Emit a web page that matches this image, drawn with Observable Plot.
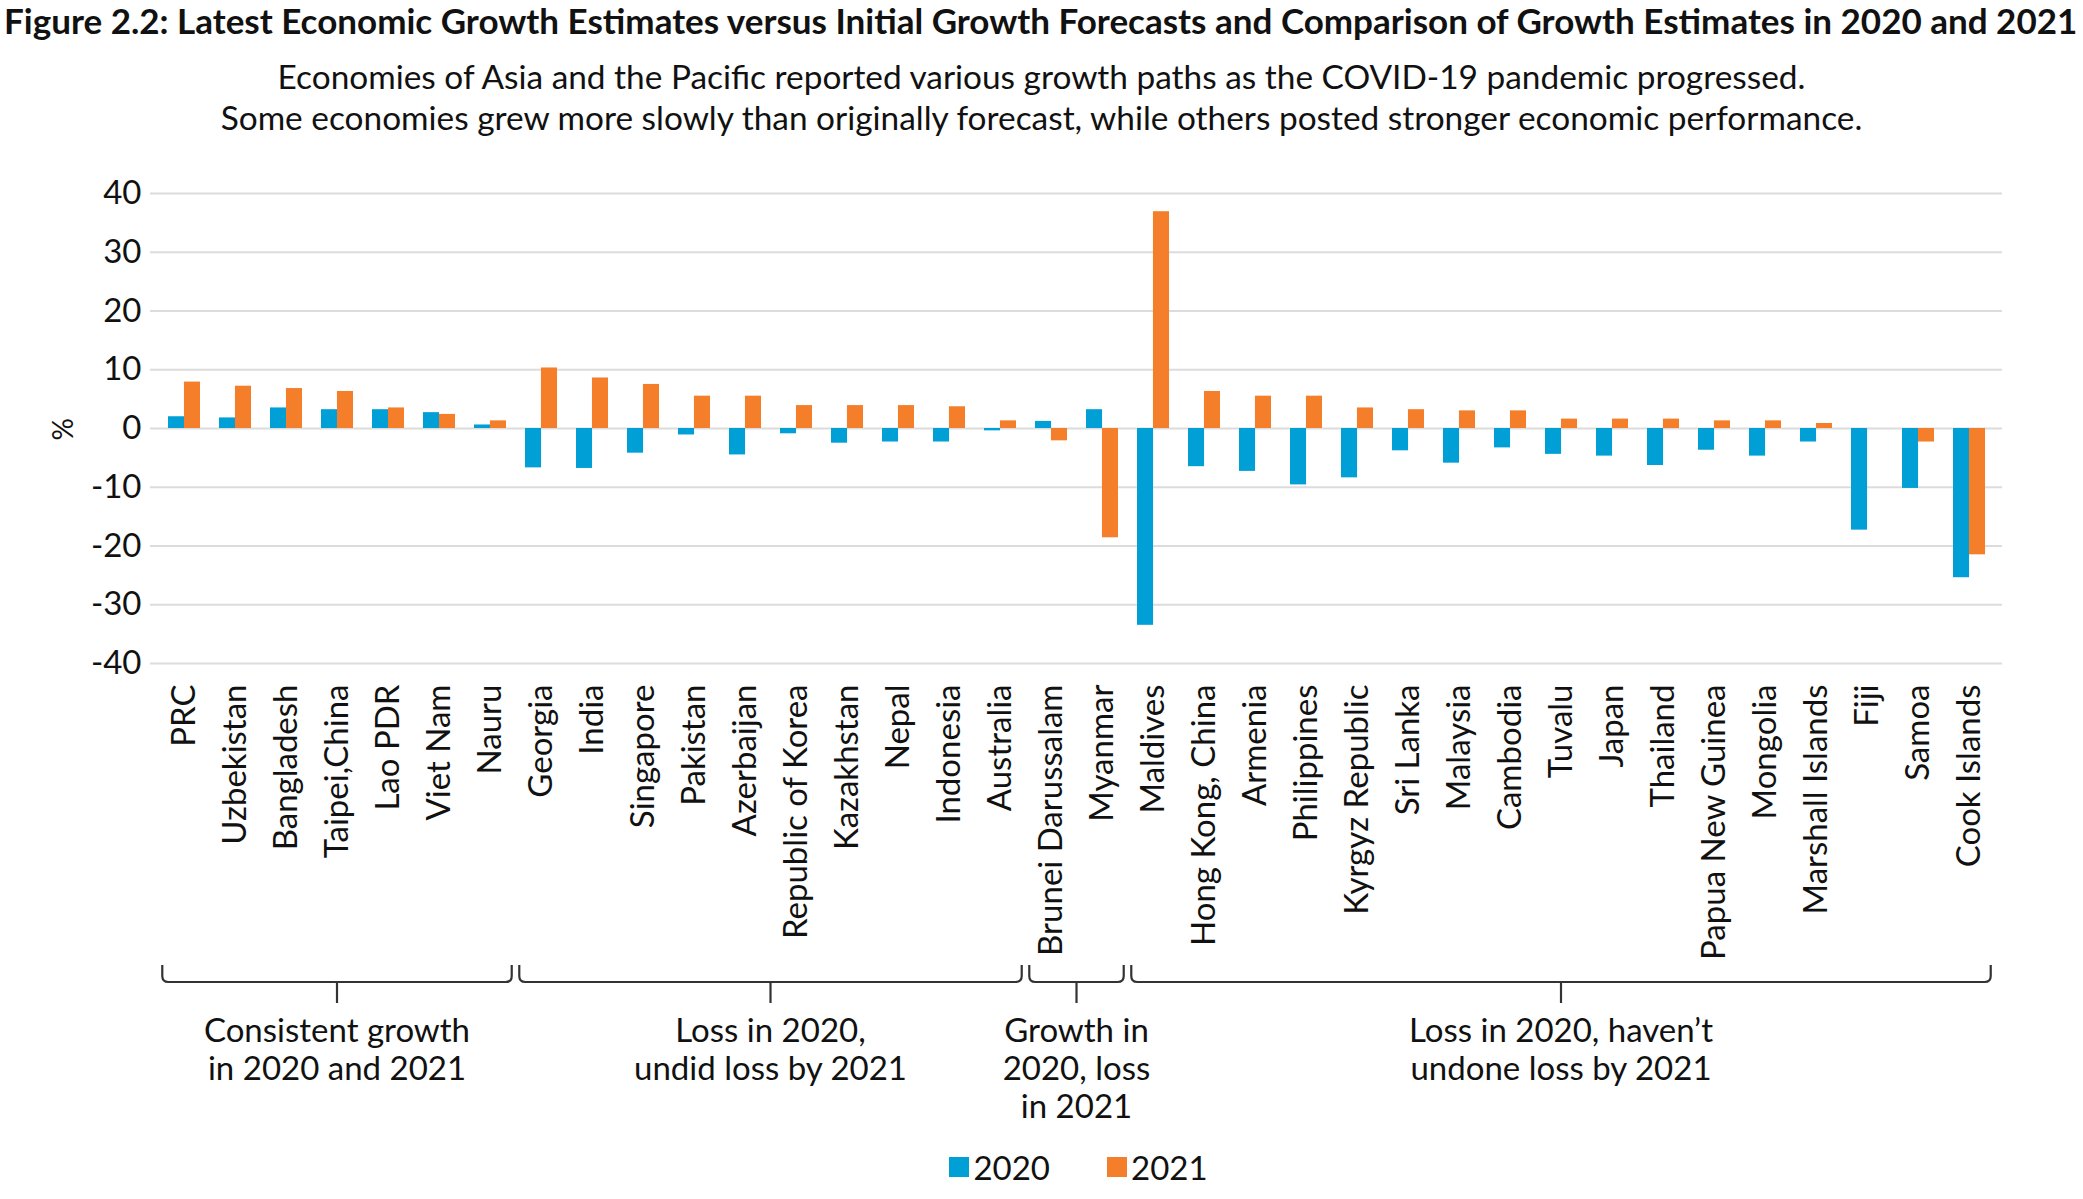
<!DOCTYPE html>
<html><head><meta charset="utf-8">
<script src="https://cdn.jsdelivr.net/npm/d3@7"></script>
<script src="https://cdn.jsdelivr.net/npm/@observablehq/plot@0.6"></script>
<style>
body{margin:0;background:#fff;font-family:Lato,sans-serif;color:#111;}
#title{height:40px;line-height:40px;font-weight:bold;font-size:35px;padding-left:4px;white-space:nowrap;}
#subtitle{padding-top:16px;text-align:center;font-size:33.4px;line-height:41px;height:82px;}
#chart svg{display:block;}
#legend{height:64px;display:flex;justify-content:center;align-items:center;padding-left:74px;font-size:33px;}
#legend .item{display:flex;align-items:center;}
#legend .sw{width:20px;height:20px;margin-right:4px;}
#legend .item + .item{margin-left:57px;}
</style></head><body>
<div id="title">Figure 2.2: Latest Economic Growth Estimates versus Initial Growth Forecasts and Comparison of Growth Estimates in 2020 and 2021</div>
<div id="subtitle">Economies of Asia and the Pacific reported various growth paths as the COVID-19 pandemic progressed.<br>Some economies grew more slowly than originally forecast, while others posted stronger economic performance.</div>
<div id="chart"></div>
<div id="legend"></div>
<script>
const countries = ["PRC","Uzbekistan","Bangladesh","Taipei,China","Lao PDR","Viet Nam","Nauru",
  "Georgia","India","Singapore","Pakistan","Azerbaijan","Republic of Korea","Kazakhstan","Nepal","Indonesia","Australia",
  "Brunei Darussalam","Myanmar",
  "Maldives","Hong Kong, China","Armenia","Philippines","Kyrgyz Republic","Sri Lanka","Malaysia","Cambodia","Tuvalu","Japan","Thailand","Papua New Guinea","Mongolia","Marshall Islands","Fiji","Samoa","Cook Islands"];
const growth2020 = [2.0,1.8,3.5,3.2,3.2,2.7,0.6,
  -6.7,-6.8,-4.2,-1.1,-4.5,-0.9,-2.5,-2.3,-2.3,-0.4,
  1.2,3.2,
  -33.5,-6.5,-7.3,-9.6,-8.4,-3.8,-5.9,-3.3,-4.4,-4.7,-6.3,-3.7,-4.7,-2.3,-17.3,-10.2,-25.4];
const growth2021 = [7.9,7.2,6.8,6.3,3.5,2.4,1.3,
  10.3,8.6,7.5,5.5,5.5,3.9,3.9,3.9,3.7,1.3,
  -2.1,-18.6,
  36.9,6.3,5.5,5.5,3.5,3.2,3.0,3.0,1.6,1.6,1.6,1.3,1.3,0.85,null,-2.3,-21.5];
const years = ["2020","2021"];
const yTicks = [-40,-30,-20,-10,0,10,20,30,40];
const groupLabels = [
  ["Consistent growth","in 2020 and 2021"],
  ["Loss in 2020,","undid loss by 2021"],
  ["Growth in","2020, loss","in 2021"],
  ["Loss in 2020, haven\u2019t","undone loss by 2021"]
];
const groupFirst = ["PRC","Georgia","Brunei Darussalam","Maldives"];
const groupLast = ["Nauru","Australia","Myanmar","Cook Islands"];
const colors = ["#009FD6","#F47E2A"];

const rows2020 = countries.map((c,i)=>({country:c, year:"2020", value:growth2020[i]})).filter(d=>d.value!=null);
const rows2021 = countries.map((c,i)=>({country:c, year:"2021", value:growth2021[i]})).filter(d=>d.value!=null);

const W = 2083, H = 997;
const mL = 150, mR = 81, mT = 55, mB = 472;
const padIn = 0.38;
const step = (W - mL - mR) / countries.length;
const half = step * (1 - padIn) / 2;

const plot = Plot.plot({
  width: W, height: H,
  marginTop: mT, marginBottom: mB, marginLeft: mL, marginRight: mR,
  x: {domain: countries, paddingInner: padIn, paddingOuter: padIn/2},
  y: {domain: [-40, 40]},
  style: {fontFamily: "Lato, sans-serif", color: "#111", background: "#fff"},
  marks: [
    Plot.gridY(yTicks, {stroke: "#dcdcdc", strokeOpacity: 1, strokeWidth: 2}),
    Plot.barY(rows2020, {x: "country", y: "value", fill: colors[0], insetRight: half}),
    Plot.barY(rows2021, {x: "country", y: "value", fill: colors[1], insetLeft: half}),
    Plot.axisY(yTicks, {tickSize: 0, tickPadding: 9, fontSize: 33, label: null, tickFormat: d => String(d)}),
    Plot.axisX({tickRotate: -90, tickSize: 0, tickPadding: 21, fontSize: 33, label: null}),
    Plot.text(["%"], {frameAnchor: "left", dx: -86, dy: 12, rotate: -90, fontSize: 28, fill: "#111"})
  ]
});

// brackets and group labels
const xs = plot.scale("x");
const svg = d3.select(plot);
const lineY = 844, endTop = 827, tickBottom = 865, r = 6, inset = 4;
const gap = step - xs.bandwidth;
const g = svg.append("g").attr("fill","none").attr("stroke","#333").attr("stroke-width",2.2);
const gl = svg.append("g").attr("font-size",33).attr("font-family","Lato, sans-serif").attr("fill","#111").attr("text-anchor","middle");
groupLabels.forEach((lines, k) => {
  const x0 = xs.apply(groupFirst[k]) - gap/2 + inset;
  const x1 = xs.apply(groupLast[k]) + xs.bandwidth + gap/2 - inset;
  const xm = (x0 + x1) / 2;
  g.append("path").attr("d",
    `M${x0},${endTop} L${x0},${lineY - r} Q${x0},${lineY} ${x0 + r},${lineY} L${x1 - r},${lineY} Q${x1},${lineY} ${x1},${lineY - r} L${x1},${endTop}`);
  g.append("path").attr("d", `M${xm},${lineY} L${xm},${tickBottom}`);
  lines.forEach((t, j) => {
    gl.append("text").attr("x", xm).attr("y", 892 + j*38).attr("dy","0.35em").text(t);
  });
});

document.getElementById("chart").appendChild(plot);

// legend
const lg = document.getElementById("legend");
years.forEach((y, i) => {
  const it = document.createElement("div"); it.className = "item";
  const sw = document.createElement("div"); sw.className = "sw"; sw.style.background = colors[i];
  const tx = document.createElement("span"); tx.textContent = y;
  it.appendChild(sw); it.appendChild(tx); lg.appendChild(it);
});
</script>
</body></html>
